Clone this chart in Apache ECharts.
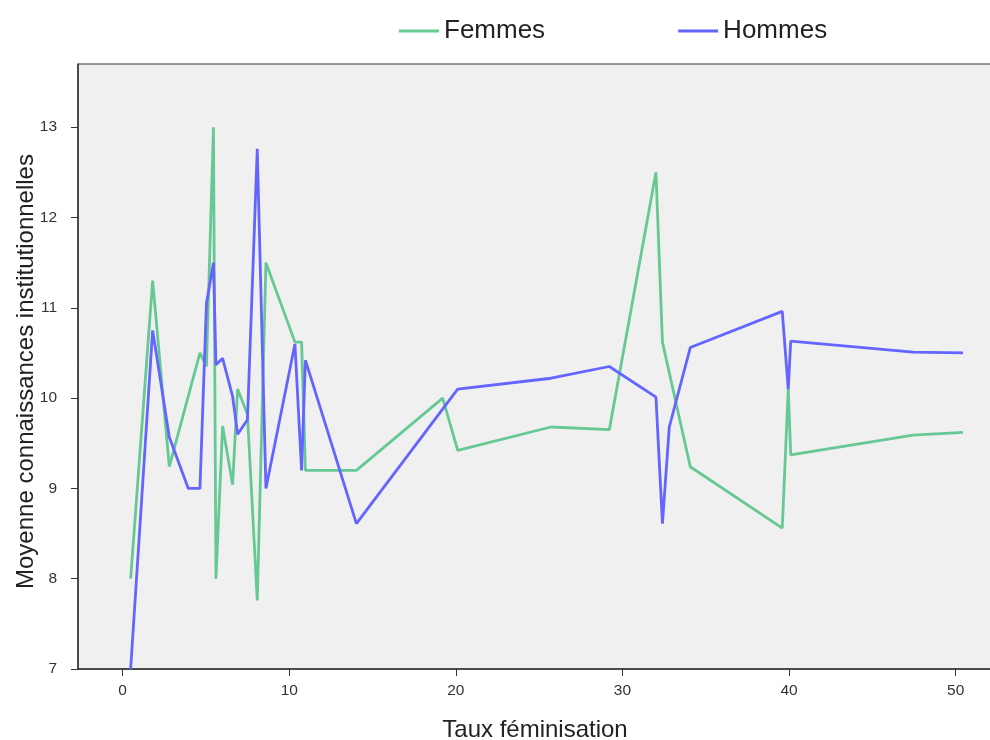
<!DOCTYPE html>
<html><head><meta charset="utf-8">
<script src="https://cdn.jsdelivr.net/npm/echarts@6/dist/echarts.min.js"></script>
<style>html,body{margin:0;padding:0;background:#fff}#c{width:990px;height:740px}</style>
</head><body><div id="c"></div>
<script>
const femmesX = [0.48, 1.80, 2.80, 4.64, 5.03, 5.45, 5.60, 6.00, 6.60, 6.90, 7.49, 8.08, 8.60, 10.34, 10.74, 10.97, 14.03, 19.21, 20.11, 25.71, 29.21, 32.01, 32.40, 34.07, 39.59, 39.95, 40.10, 47.44, 50.44];
const femmesY = [8.0, 11.3, 9.24, 10.5, 10.35, 13.0, 8.0, 9.69, 9.04, 10.1, 9.82, 7.76, 11.5, 10.62, 10.62, 9.2, 9.2, 10.0, 9.42, 9.68, 9.65, 12.5, 10.62, 9.24, 8.56, 10.1, 9.37, 9.59, 9.62];
const hommesX = [0.48, 1.80, 2.80, 3.94, 4.64, 5.03, 5.45, 5.60, 6.00, 6.60, 6.90, 7.49, 8.08, 8.60, 10.34, 10.74, 10.97, 14.03, 20.11, 25.71, 29.21, 32.01, 32.40, 32.81, 34.07, 39.59, 39.95, 40.10, 47.44, 50.44];
const hommesY = [7.0, 10.75, 9.57, 9.0, 9.0, 11.05, 11.5, 10.37, 10.44, 10.02, 9.6, 9.76, 12.76, 9.0, 10.6, 9.2, 10.42, 8.61, 10.1, 10.22, 10.35, 10.01, 8.61, 9.68, 10.56, 10.96, 10.1, 10.63, 10.51, 10.5];
const xTicks = [0, 10, 20, 30, 40, 50];
const yTicks = [7, 8, 9, 10, 11, 12, 13];
const seriesNames = ['Femmes', 'Hommes'];

const FONT = "'Liberation Sans', Arial, sans-serif";
const GREEN = '#66c994';
const BLUE = '#6464ff';
const chart = echarts.init(document.getElementById('c'), null, {renderer: 'canvas'});
const pairs = (xs, ys) => xs.map((x, i) => [x, ys[i]]);

chart.setOption({
  animation: false,
  backgroundColor: '#ffffff',
  legend: {
    data: seriesNames,
    top: 13,
    left: 394,
    icon: 'rect',
    itemWidth: 40,
    itemHeight: 3,
    itemGap: 133,
    textStyle: {fontFamily: FONT, fontSize: 26, color: '#222'}
  },
  grid: {
    left: 78, right: -2, top: 64, bottom: 71,
    outerBoundsMode: 'none',
    containLabel: false,
    show: true, backgroundColor: '#f0f0f0', borderColor: '#333', borderWidth: 1
  },
  xAxis: {
    type: 'value',
    min: -2.68, max: 52.18,
    name: 'Taux féminisation',
    nameLocation: 'middle',
    nameGap: 49,
    nameMoveOverlap: false,
    nameTextStyle: {fontFamily: FONT, fontSize: 24, color: '#222'},
    axisLine: {show: true, onZero: false, lineStyle: {color: '#333', width: 1.5}},
    axisTick: {show: true, length: 7, lineStyle: {color: '#333'}, customValues: xTicks},
    axisLabel: {fontFamily: FONT, fontSize: 15.5, color: '#333', margin: 14, customValues: xTicks},
    splitLine: {show: false}
  },
  yAxis: {
    type: 'value',
    min: 7, max: 13.70,
    name: 'Moyenne connaissances institutionnelles',
    nameLocation: 'middle',
    nameGap: 40,
    nameMoveOverlap: false,
    nameTextStyle: {fontFamily: FONT, fontSize: 24, color: '#222', padding: [0, 10, 0, 0]},
    axisLine: {show: true, onZero: false, lineStyle: {color: '#333', width: 1.5}},
    axisTick: {show: true, length: 7, lineStyle: {color: '#333'}, customValues: yTicks},
    axisLabel: {fontFamily: FONT, fontSize: 15.5, color: '#333', margin: 21, customValues: yTicks},
    splitLine: {show: false}
  },
  series: [
    {name: seriesNames[0], type: 'line', data: pairs(femmesX, femmesY), symbol: 'none',
     lineStyle: {color: GREEN, width: 2.8}, itemStyle: {color: GREEN}},
    {name: seriesNames[1], type: 'line', data: pairs(hommesX, hommesY), symbol: 'none',
     lineStyle: {color: BLUE, width: 2.8}, itemStyle: {color: BLUE}}
  ]
});
</script></body></html>
